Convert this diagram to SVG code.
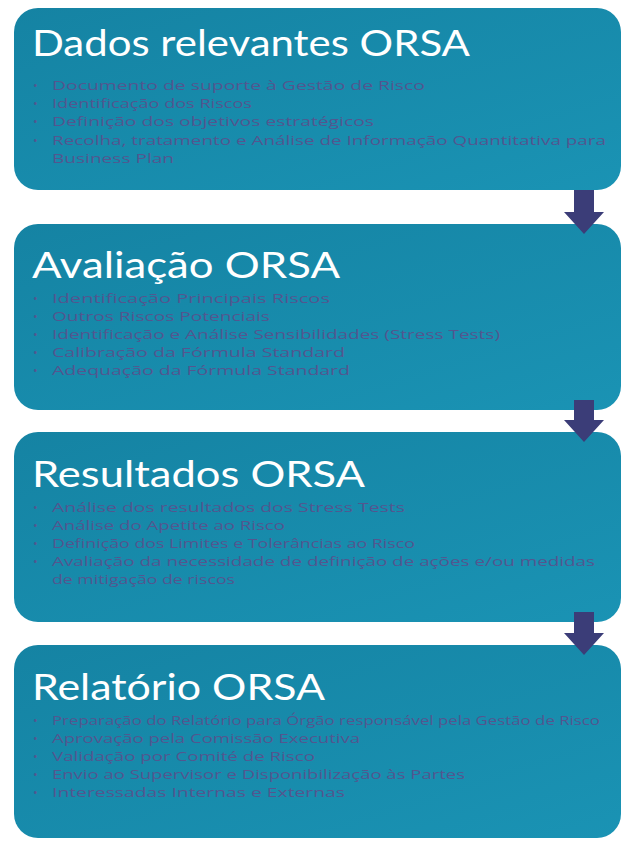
<svg xmlns="http://www.w3.org/2000/svg" width="636" height="846" viewBox="0 0 636 846">
<style>
.box{fill:url(#g);}
.title{font-family:Lato,"Open Sans","Liberation Sans",sans-serif;font-size:37px;fill:#ffffff;}
.item{font-family:"Open Sans","Liberation Sans",sans-serif;font-size:12.5px;fill:#53568f;}
.arrow{fill:#3b3d78;}
</style>
<defs>
<linearGradient id="g" x1="0" y1="0" x2="1" y2="1">
<stop offset="0" stop-color="#1583a3"/>
<stop offset="1" stop-color="#1a93b4"/>
</linearGradient>
</defs>
<rect width="636" height="846" fill="#ffffff"/>
<g id="n1">
<rect class="box" x="14" y="8" width="607" height="182" rx="24"/>
<text class="title" x="32" y="56" textLength="438" lengthAdjust="spacingAndGlyphs">Dados relevantes ORSA</text>
<g class="item">
<text x="33" y="90">•</text><text x="52" y="90" textLength="373" lengthAdjust="spacingAndGlyphs">Documento de suporte à Gestão de Risco</text>
<text x="33" y="108">•</text><text x="52" y="108" textLength="200" lengthAdjust="spacingAndGlyphs">Identificação dos Riscos</text>
<text x="33" y="126">•</text><text x="52" y="126" textLength="322" lengthAdjust="spacingAndGlyphs">Definição dos objetivos estratégicos</text>
<text x="33" y="145">•</text><text x="52" y="145" textLength="554" lengthAdjust="spacingAndGlyphs">Recolha, tratamento e Análise de Informação Quantitativa para</text>
<text x="52" y="163" textLength="122" lengthAdjust="spacingAndGlyphs">Business Plan</text>
</g>
</g>
<g id="n2">
<rect class="box" x="14" y="224" width="607" height="186" rx="24"/>
<text class="title" x="32" y="278" textLength="308" lengthAdjust="spacingAndGlyphs">Avaliação ORSA</text>
<g class="item">
<text x="33" y="303">•</text><text x="52" y="303" textLength="278" lengthAdjust="spacingAndGlyphs">Identificação Principais Riscos</text>
<text x="33" y="321">•</text><text x="52" y="321" textLength="218" lengthAdjust="spacingAndGlyphs">Outros Riscos Potenciais</text>
<text x="33" y="339">•</text><text x="52" y="339" textLength="448" lengthAdjust="spacingAndGlyphs">Identificação e Análise Sensibilidades (Stress Tests)</text>
<text x="33" y="357">•</text><text x="52" y="357" textLength="293" lengthAdjust="spacingAndGlyphs">Calibração da Fórmula Standard</text>
<text x="33" y="375">•</text><text x="52" y="375" textLength="298" lengthAdjust="spacingAndGlyphs">Adequação da Fórmula Standard</text>
</g>
</g>
<g id="n3">
<rect class="box" x="14" y="432" width="607" height="190" rx="24"/>
<text class="title" x="32" y="487" textLength="333" lengthAdjust="spacingAndGlyphs">Resultados ORSA</text>
<g class="item">
<text x="33" y="512">•</text><text x="52" y="512" textLength="353" lengthAdjust="spacingAndGlyphs">Análise dos resultados dos Stress Tests</text>
<text x="33" y="530">•</text><text x="52" y="530" textLength="233" lengthAdjust="spacingAndGlyphs">Análise do Apetite ao Risco</text>
<text x="33" y="548">•</text><text x="52" y="548" textLength="363" lengthAdjust="spacingAndGlyphs">Definição dos Limites e Tolerâncias ao Risco</text>
<text x="33" y="566">•</text><text x="52" y="566" textLength="543" lengthAdjust="spacingAndGlyphs">Avaliação da necessidade de definição de ações e/ou medidas</text>
<text x="52" y="584" textLength="183" lengthAdjust="spacingAndGlyphs">de mitigação de riscos</text>
</g>
</g>
<g id="n4">
<rect class="box" x="14" y="645" width="607" height="193" rx="24"/>
<text class="title" x="32" y="700" textLength="293" lengthAdjust="spacingAndGlyphs">Relatório ORSA</text>
<g class="item">
<text x="33" y="725">•</text><text x="52" y="725" textLength="548" lengthAdjust="spacingAndGlyphs">Preparação do Relatório para Órgão responsável pela Gestão de Risco</text>
<text x="33" y="743">•</text><text x="52" y="743" textLength="308" lengthAdjust="spacingAndGlyphs">Aprovação pela Comissão Executiva</text>
<text x="33" y="761">•</text><text x="52" y="761" textLength="263" lengthAdjust="spacingAndGlyphs">Validação por Comité de Risco</text>
<text x="33" y="779">•</text><text x="52" y="779" textLength="413" lengthAdjust="spacingAndGlyphs">Envio ao Supervisor e Disponibilização às Partes</text>
<text x="33" y="797">•</text><text x="52" y="797" textLength="293" lengthAdjust="spacingAndGlyphs">Interessadas Internas e Externas</text>
</g>
</g>
<g id="connectors">
<polygon class="arrow" points="574,190 594,190 594,212 604,212 584,234 564,212 574,212"/>
<polygon class="arrow" points="574,400 594,400 594,420 604,420 584,442 564,420 574,420"/>
<polygon class="arrow" points="574,612 594,612 594,633 604,633 584,655 564,633 574,633"/>
</g>
</svg>
